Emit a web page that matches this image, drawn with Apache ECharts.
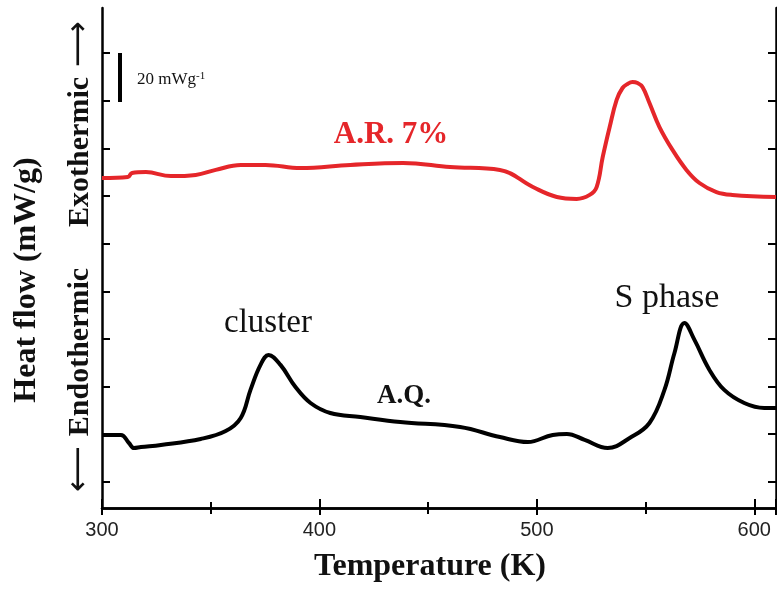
<!DOCTYPE html>
<html>
<head>
<meta charset="utf-8">
<script src="https://cdn.jsdelivr.net/npm/echarts@6/dist/echarts.min.js"></script>
<style>
  html, body { margin: 0; padding: 0; background: #fff; }
  #main { width: 777px; height: 591px; }
</style>
</head>
<body>
<div id="main"></div>
<script>
// 温度 (K) 和热流 (任意偏移, 单位 mW/g)
var arTemp = [300, 311.9, 313.8, 320.2, 331.7, 343.1, 352.3, 363.8, 375.2, 391.3, 414.2, 438.5, 460.1, 483.0,
  498.2, 509.2, 518.3, 524.3, 527.5, 530.3, 533.5, 536.7, 539.4, 541.7, 544.0, 546.3, 548.6, 551.8, 556.4, 562.4,
  568.8, 574.8, 582.6, 589.9, 610];
var arFlow = [138.6, 139.0, 140.7, 141.1, 139.4, 139.9, 142.0, 144.1, 144.1, 142.8, 144.1, 144.9, 143.2, 142.0,
  134.8, 130.6, 129.8, 131.5, 134.8, 147.4, 160.0, 171.4, 176.4, 178.1, 178.9, 178.5, 176.8, 170.1, 160.0, 150.4,
  142.0, 136.5, 132.7, 131.5, 130.6];

var aqTemp = [300, 308.7, 312.4, 314.7, 317.9, 327.1, 345.4, 356.9, 363.8, 368.3, 372.9, 376.6, 382.1, 389.0,
  395.9, 405.0, 418.8, 437.2, 464.7, 483.0, 495.9, 507.3, 513.8, 522.0, 532.6, 542.7, 551.8, 558.7,
  563.3, 567.9, 572.5, 579.4, 586.2, 595.4, 604.6, 610];
var aqFlow = [30.7, 30.7, 27.3, 25.2, 25.6, 26.5, 29.0, 32.3, 37.8, 49.6, 60.1, 64.3, 60.1, 50.8,
  44.1, 39.9, 38.2, 36.1, 34.0, 29.8, 27.7, 30.7, 31.1, 28.6, 25.2, 29.4, 35.7, 49.6,
  65.1, 77.7, 70.6, 58.0, 49.6, 44.1, 42.0, 42.0];

var yTicks = [11, 31, 51, 71, 91, 111, 131, 151, 171, 191];

function pairs(xs, ys) {
    return xs.map(function(x, i) { return [x, ys[i]]; });
}

var myChart = echarts.init(document.getElementById('main'));

var serif = '"Liberation Serif", "Times New Roman", serif';
var arrowFont = '32px "DejaVu Sans", sans-serif';
var frame = { show: true, lineStyle: { color: '#000', width: 2.5 } };

option = {
    animation: false,
    grid: { left: 102, right: 1, top: 8, bottom: 83 },
    xAxis: [{
        type: 'value', min: 300, max: 610, interval: 100,
        axisLine: frame,
        axisTick: { inside: true, length: 9, lineStyle: { width: 2, color: '#000' } },
        minorTick: { show: true, splitNumber: 2, length: 6, lineStyle: { width: 2, color: '#000' } },
        splitLine: { show: false },
        axisLabel: { fontFamily: '"Liberation Sans", Arial, sans-serif', fontSize: 20, color: '#222', margin: 12 }
    }, {
        type: 'value', position: 'top', min: 300, max: 610, interval: 100,
        axisLine: frame,
        axisTick: { inside: true, length: 7, lineStyle: { width: 2, color: '#000' } },
        minorTick: { show: true, splitNumber: 2, length: 6, lineStyle: { width: 2, color: '#000' } },
        splitLine: { show: false },
        axisLabel: { show: false }
    }],
    yAxis: [{
        type: 'value', min: 0, max: 210,
        axisLine: frame,
        axisTick: { inside: true, length: 8, customValues: yTicks, lineStyle: { width: 2, color: '#000' } },
        splitLine: { show: false },
        axisLabel: { show: false }
    }, {
        type: 'value', position: 'right', min: 0, max: 210,
        axisLine: frame,
        axisTick: { inside: true, length: 8, customValues: yTicks, lineStyle: { width: 2, color: '#000' } },
        splitLine: { show: false },
        axisLabel: { show: false }
    }],
    series: [{
        type: 'line', name: 'A.R. 7%',
        data: pairs(arTemp, arFlow),
        smooth: 0.4, showSymbol: false,
        lineStyle: { color: '#e5262a', width: 4 }
    }, {
        type: 'line', name: 'A.Q.',
        data: pairs(aqTemp, aqFlow),
        smooth: 0.4, showSymbol: false,
        lineStyle: { color: '#000', width: 4 }
    }],
    graphic: [
        { type: 'text', x: 391, y: 135, style: { text: 'A.R. 7%', font: 'bold 31px ' + serif, fill: '#e5262a', align: 'center', verticalAlign: 'middle' } },
        { type: 'text', x: 268, y: 323, style: { text: 'cluster', font: '33px ' + serif, fill: '#111', align: 'center', verticalAlign: 'middle' } },
        { type: 'text', x: 404, y: 396, style: { text: 'A.Q.', font: 'bold 27px ' + serif, fill: '#111', align: 'center', verticalAlign: 'middle' } },
        { type: 'text', x: 667, y: 298, style: { text: 'S phase', font: '34px ' + serif, fill: '#111', align: 'center', verticalAlign: 'middle' } },
        { type: 'rect', shape: { x: 118, y: 53, width: 4, height: 49 }, style: { fill: '#000' } },
        { type: 'text', x: 137, y: 80, style: {
            text: '20 mWg{sup|-1}', font: '17px ' + serif, fill: '#111', verticalAlign: 'middle',
            rich: { sup: { font: '11px ' + serif, fill: '#111', verticalAlign: 'top', padding: [0, 0, 8, 0] } }
        } },
        { type: 'text', x: 430, y: 567, style: { text: 'Temperature (K)', font: 'bold 32px ' + serif, fill: '#111', align: 'center', verticalAlign: 'middle' } },
        { type: 'text', x: 27, y: 280, rotation: Math.PI / 2, style: { text: 'Heat flow (mW/g)', font: 'bold 32px ' + serif, fill: '#111', align: 'center', verticalAlign: 'middle' } },
        { type: 'text', x: 80, y: 124, rotation: Math.PI / 2, style: {
            text: '{t|Exothermic}{a|\u27F6}', align: 'center', verticalAlign: 'middle',
            rich: { t: { font: 'bold 30px ' + serif, fill: '#111' }, a: { font: arrowFont, fill: '#111', padding: [0, 0, 0, 10] } }
        } },
        { type: 'text', x: 80, y: 380, rotation: Math.PI / 2, style: {
            text: '{a|\u27F5}{t|Endothermic}', align: 'center', verticalAlign: 'middle',
            rich: { t: { font: 'bold 30px ' + serif, fill: '#111' }, a: { font: arrowFont, fill: '#111', padding: [0, 10, 0, 0] } }
        } }
    ]
};

myChart.setOption(option);
</script>
</body>
</html>
